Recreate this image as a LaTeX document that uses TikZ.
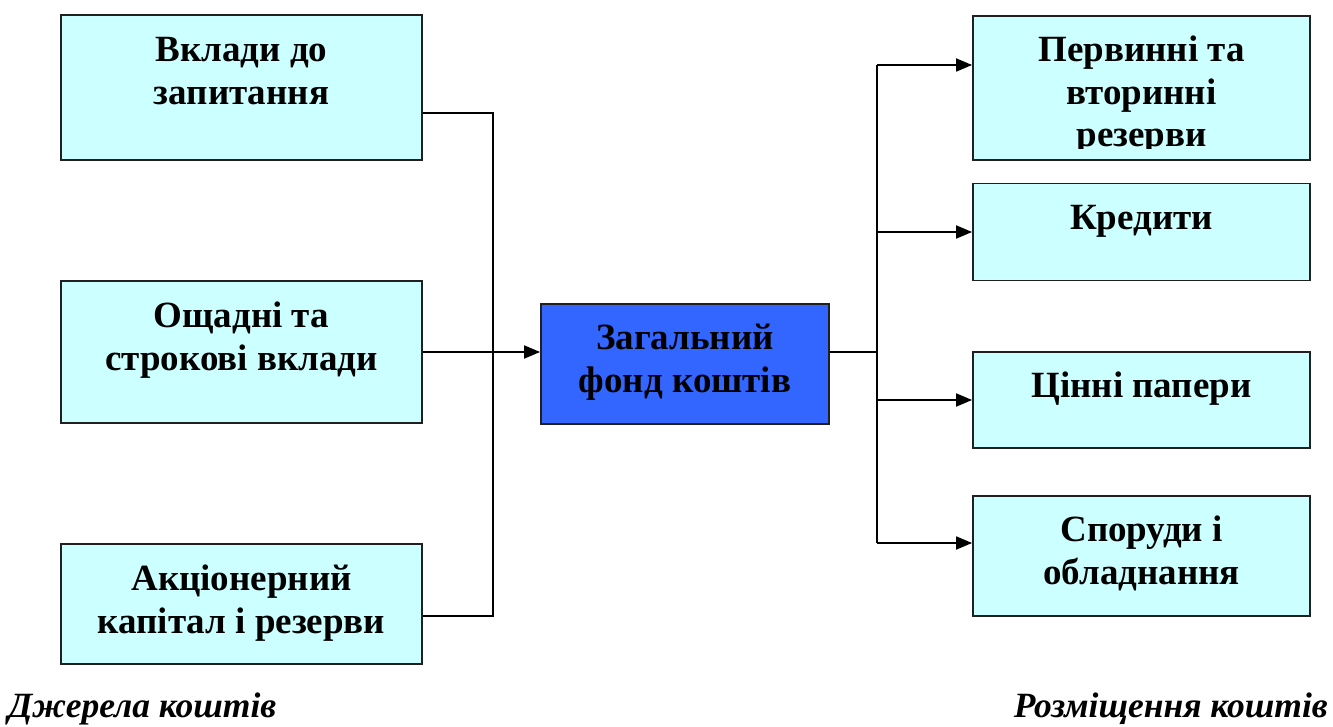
\documentclass[tikz,border=0pt]{standalone}
\usepackage{fontspec}
\setmainfont{Liberation Serif}
\usetikzlibrary{arrows.meta,calc}
\definecolor{lightcyan}{HTML}{CCFFFF}
\definecolor{fundblue}{HTML}{3366FF}
\definecolor{edgegray}{HTML}{202020}
\tikzset{
  box/.style={draw=edgegray, line width=1.8pt, fill=lightcyan, inner sep=0pt, anchor=center},
  fundbox/.style={box, fill=fundblue},
  boxtext/.style={anchor=north, inner sep=0pt, align=center,
    font=\bfseries\fontsize{37}{42.5}\selectfont},
  caption/.style={inner sep=0pt, font=\bfseries\itshape\fontsize{35.5}{42}\selectfont},
  conn/.style={line width=1.3pt, black},
  arr/.style={line width=1.8pt, black, -{Triangle[length=16pt,width=13pt]}}
}
\begin{document}
\begin{tikzpicture}[x=1pt,y=-1pt]
\useasboundingbox (0,0) rectangle (1333,727);
% left boxes
\node[box, minimum width=361pt, minimum height=145pt] (L1) at (241.5,87.5) {};
\node[box, minimum width=361pt, minimum height=142pt] (L2) at (241.5,352) {};
\node[box, minimum width=361pt, minimum height=120pt] (L3) at (241.5,604) {};
% centre
\node[fundbox, minimum width=288pt, minimum height=120pt] (C) at (685,364) {};
% right boxes
\node[box, minimum width=337pt, minimum height=144pt] (R1) at (1141.5,88) {};
\node[box, minimum width=337pt, minimum height=97pt] (R2) at (1141.5,232) {};
\node[box, minimum width=337pt, minimum height=96pt] (R3) at (1141.5,400) {};
\node[box, minimum width=337pt, minimum height=120pt] (R4) at (1141.5,556) {};
% texts
\node[boxtext] (tL1) at ($(L1.north)+(0,17.5)$) {\strut Вклади до\\запитання};
\node[boxtext] (tL2) at ($(L2.north)+(0,17.5)$) {\strut Ощадні та\\строкові вклади};
\node[boxtext] (tL3) at ($(L3.north)+(0,17.5)$) {\strut Акціонерний\\капітал і резерви};
\node[boxtext] (tC) at ($(C.north)+(0,16.5)$) {\strut Загальний\\фонд коштів};
\begin{scope}
\clip (R1.north west) rectangle (R1.east |- 0,149);
\node[boxtext] (tR1) at ($(R1.north)+(0,16.5)$) {\strut Первинні та\\вторинні\\резерви};
\end{scope}
\node[boxtext] (tR2) at ($(R2.north)+(0,17)$) {\strut Кредити};
\node[boxtext] (tR3) at ($(R3.north)+(0,16.5)$) {\strut Цінні папери};
\node[boxtext] (tR4) at ($(R4.north)+(0,16.5)$) {\strut Споруди і\\обладнання};
% captions
\node[caption, anchor=base west] (capL) at (8,717) {Джерела коштів};
\node[caption, anchor=base east] (capR) at (1328,717) {Розміщення коштів};
% junctions
\coordinate (jl) at (493,352);
\coordinate (jr) at (877,352);
% left connectors
\draw[conn] (L1.east |- 0,113) -| (jl) |- (L3.east |- 0,616);
\draw[arr] (L2.east) -- (L2.east -| C.west);
% right connectors
\draw[conn] (C.east |- jr) -- (jr);
\draw[conn] (jr |- 0,65) -- (jr |- 0,543);
\draw[arr] (jr |- 0,65) -- (R1.west |- 0,65);
\draw[arr] (jr |- R2.west) -- (R2.west);
\draw[arr] (jr |- R3.west) -- (R3.west);
\draw[arr] (jr |- 0,543) -- (R4.west |- 0,543);
\end{tikzpicture}
\end{document}
